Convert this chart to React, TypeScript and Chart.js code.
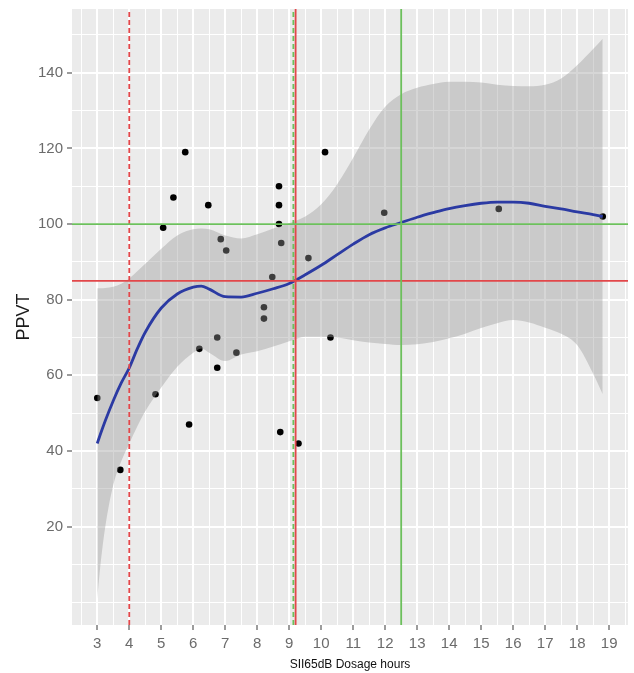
import React, { useEffect, useRef } from 'react';
import { Chart, registerables } from 'chart.js';

Chart.register(...registerables);

// Axis limits and tick positions
const X_MIN = 2.21;
const X_MAX = 19.59;
const Y_MIN = -6.0;
const Y_MAX = 156.85;
const X_MAJOR = [3, 4, 5, 6, 7, 8, 9, 10, 11, 12, 13, 14, 15, 16, 17, 18, 19];
const X_MINOR = [2.5, 3.5, 4.5, 5.5, 6.5, 7.5, 8.5, 9.5, 10.5, 11.5, 12.5, 13.5, 14.5, 15.5, 16.5, 17.5, 18.5, 19.5];
const Y_MAJOR = [20, 40, 60, 80, 100, 120, 140];
const Y_MINOR = [0, 10, 30, 50, 70, 90, 110, 130, 150];

// Observations
const dosageHours = [3, 3.72, 4.82, 5.06, 5.38, 5.75, 5.87, 6.19, 6.47, 6.75, 6.75, 6.86, 7.03, 7.35, 8.21, 8.21, 8.47, 8.68, 8.68, 8.68, 8.75, 8.72, 9.29, 9.6, 10.12, 10.29, 11.97, 15.55, 18.8];
const ppvt = [54, 35, 55, 99, 107, 119, 47, 67, 105, 70, 62, 96, 93, 66, 78, 75, 86, 110, 105, 100, 95, 45, 42, 91, 119, 70, 103, 104, 102];

// Smoother (fit and confidence band)
const smoothX = [3, 3.1, 3.25, 3.5, 3.75, 4, 4.25, 4.5, 5, 5.5, 6, 6.25, 6.5, 7, 7.5, 8, 8.5, 9, 9.5, 10, 10.5, 11, 11.5, 12, 12.5, 13, 13.5, 14, 14.5, 15, 15.5, 16, 16.5, 17, 17.5, 18, 18.5, 18.8];
const smoothFit = [42, 44.5, 48, 53.3, 58, 62, 67, 71.4, 77.8, 81.5, 83.3, 83.6, 82.8, 80.8, 80.7, 81.7, 82.9, 84.3, 86.6, 89.1, 91.9, 94.7, 97.2, 99, 100.4, 101.8, 103, 104.1, 104.9, 105.5, 105.8, 105.8, 105.5, 104.7, 104, 103.2, 102.5, 102];
const smoothUpper = [83, 83, 83.1, 83.4, 84.2, 85.6, 87.5, 89.5, 93.5, 97, 98.6, 98.8, 98.6, 97, 96.2, 97.3, 98.8, 100.2, 102, 105.2, 110.5, 117.5, 125, 131, 134.3, 136, 137, 137.6, 137.6, 137.4, 136.8, 136.5, 136.4, 136.8, 138.5, 142, 146.3, 149];
const smoothLower = [1, 10, 20, 31, 37.3, 42, 46.5, 50.5, 56.8, 62.3, 66, 67.1, 66, 63.8, 65.5, 66.4, 67.6, 69, 70.2, 70.2, 70, 69.3, 68.7, 68.3, 68, 68.2, 68.8, 69.8, 71, 72.5, 73.8, 74.6, 74, 72.6, 71, 68, 60.5, 55];

// Reference lines
const redDashedX = 4;
const greenDashedX = 9.13;
const redSolidX = 9.2;
const greenSolidX = 12.5;
const redH = 85;
const greenH = 100;

const RED = '#E2474A';
const GREEN = '#6CC05C';
const FONT = '"Liberation Sans", Arial, sans-serif';

const pts = (xs: number[], ys: number[]) => xs.map((x, i) => ({ x, y: ys[i] }));

const vLine = (x: number, color: string, dash: number[] = []) => ({
  data: [{ x, y: Y_MIN }, { x, y: Y_MAX }],
  borderColor: color,
  borderWidth: 1.8,
  borderDash: dash,
  pointRadius: 0,
  fill: false,
  showLine: true,
});
const hLine = (y: number, color: string) => ({
  data: [{ x: X_MIN, y }, { x: X_MAX, y }],
  borderColor: color,
  borderWidth: 1.8,
  pointRadius: 0,
  fill: false,
  showLine: true,
});

const panelBg = {
  id: 'panelBg',
  beforeDraw(chart: any) {
    const { ctx, chartArea } = chart;
    ctx.save();
    ctx.fillStyle = '#EBEBEB';
    ctx.fillRect(chartArea.left, chartArea.top, chartArea.right - chartArea.left, chartArea.bottom - chartArea.top);
    ctx.restore();
  },
};

export default function App() {
  const ref = useRef<HTMLCanvasElement | null>(null);
  useEffect(() => {
    if (!ref.current) return;
    const chart = new Chart(ref.current, {
      type: 'line',
      data: {
        datasets: [
          vLine(greenSolidX, GREEN),
          hLine(greenH, GREEN),
          hLine(redH, RED),
          vLine(redSolidX, RED),
          vLine(greenDashedX, GREEN, [5, 3]),
          vLine(redDashedX, RED, [5, 3]),
          {
            data: pts(smoothX, smoothFit),
            borderColor: '#2B3AA3',
            borderWidth: 2.8,
            pointRadius: 0,
            cubicInterpolationMode: 'monotone',
            fill: false,
          },
          {
            data: pts(smoothX, smoothUpper),
            borderWidth: 0,
            borderColor: 'rgba(0,0,0,0)',
            backgroundColor: 'rgba(153,153,153,0.4)',
            pointRadius: 0,
            cubicInterpolationMode: 'monotone',
            fill: '+1',
          },
          {
            data: pts(smoothX, smoothLower),
            borderWidth: 0,
            borderColor: 'rgba(0,0,0,0)',
            pointRadius: 0,
            cubicInterpolationMode: 'monotone',
            fill: false,
          },
          {
            data: pts(dosageHours, ppvt),
            showLine: false,
            pointRadius: 3.3,
            pointBackgroundColor: '#000',
            pointBorderWidth: 0,
            borderColor: '#000',
          },
        ] as any,
      },
      options: {
        animation: false,
        responsive: true,
        maintainAspectRatio: false,
        layout: { padding: { top: 9, right: 6, left: 0, bottom: 0 } },
        plugins: { legend: { display: false }, tooltip: { enabled: false } },
        elements: { line: { tension: 0 } },
        scales: {
          x: {
            type: 'linear',
            min: X_MIN,
            max: X_MAX,
            afterBuildTicks: (s: any) => {
              s.ticks = [...X_MAJOR, ...X_MINOR].sort((a, b) => a - b).map((v) => ({ value: v }));
            },
            afterFit: (s: any) => {
              s.height = 48;
              s.paddingLeft = 0;
              s.paddingRight = 0;
            },
            border: { display: false },
            grid: {
              color: '#FFFFFF',
              lineWidth: (c: any) => (X_MAJOR.includes(c.tick?.value) ? 2 : 1),
              tickColor: (c: any) => (X_MAJOR.includes(c.tick?.value) ? '#5a5a5a' : 'rgba(0,0,0,0)'),
              tickLength: 5,
              tickWidth: 1.2,
            },
            ticks: {
              autoSkip: false,
              maxRotation: 0,
              padding: 5,
              color: '#6b6b6b',
              font: { family: FONT, size: 15 },
              callback: (v: any) => (X_MAJOR.includes(v) ? String(v) : ''),
            },
            title: {
              display: true,
              text: 'SII65dB Dosage hours',
              color: '#111111',
              font: { family: FONT, size: 12 },
              padding: { top: 0, bottom: 1 },
            },
          },
          y: {
            type: 'linear',
            min: Y_MIN,
            max: Y_MAX,
            afterBuildTicks: (s: any) => {
              s.ticks = [...Y_MAJOR, ...Y_MINOR].sort((a, b) => a - b).map((v) => ({ value: v }));
            },
            afterFit: (s: any) => {
              s.width = 72;
              s.paddingTop = 0;
              s.paddingBottom = 0;
            },
            border: { display: false },
            grid: {
              color: '#FFFFFF',
              lineWidth: (c: any) => (Y_MAJOR.includes(c.tick?.value) ? 2 : 1),
              tickColor: (c: any) => (Y_MAJOR.includes(c.tick?.value) ? '#5a5a5a' : 'rgba(0,0,0,0)'),
              tickLength: 5,
              tickWidth: 1.2,
            },
            ticks: {
              autoSkip: false,
              padding: 4,
              color: '#6b6b6b',
              font: { family: FONT, size: 15 },
              callback: (v: any) => (Y_MAJOR.includes(v) ? String(v) : ''),
            },
            title: {
              display: true,
              text: 'PPVT',
              color: '#1a1a1a',
              font: { family: FONT, size: 18 },
              padding: { top: 13, bottom: 0 },
            },
          },
        },
      } as any,
      plugins: [panelBg],
    });
    return () => chart.destroy();
  }, []);
  return (
    <div style={{ position: 'absolute', left: 0, top: 0, width: 634, height: 673, background: '#fff' }}>
      <canvas ref={ref} />
    </div>
  );
}
